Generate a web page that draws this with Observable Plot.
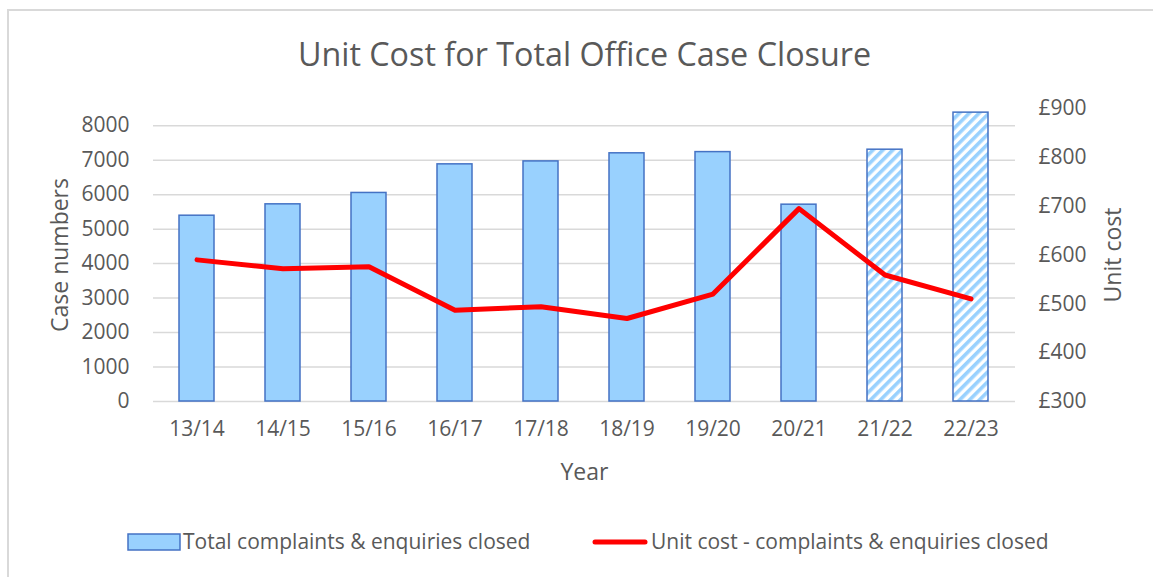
<!DOCTYPE html>
<html>
<head>
<meta charset="utf-8">
<script src="https://cdn.jsdelivr.net/npm/d3@7"></script>
<script src="https://cdn.jsdelivr.net/npm/@observablehq/plot@0.6"></script>
<style>
  body { margin: 0; background: #fff; font-family: "Open Sans", sans-serif; }
  #wrap { position: relative; width: 1153px; height: 577px; overflow: hidden; }
  #border { position: absolute; left: 7px; top: 9px; width: 1200px; height: 700px; border: 2px solid #d9d9d9; box-sizing: border-box; }
  #title { position: absolute; left: 8px; width: 1153px; top: 33px; text-align: center; font-size: 32.3px; line-height: 40px; color: #595959; }
  #chart { position: absolute; left: 0; top: 80px; }
  .leg { position: absolute; font-size: 21px; color: #595959; line-height: 24px; white-space: nowrap; }
  .sw { position: absolute; }
</style>
</head>
<body>
<div id="wrap">
  <div id="border"></div>
  <div id="title">Unit Cost for Total Office Case Closure</div>
  <div id="chart"></div>
  <svg class="sw" style="left:127px;top:533px" width="54" height="19"><rect x="1" y="1" width="52" height="16" fill="#99d1fe" stroke="#4472c4" stroke-width="1.5"/></svg>
  <div class="leg" style="left:183px;top:529px">Total complaints &amp; enquiries closed</div>
  <svg class="sw" style="left:590px;top:536px" width="60" height="12"><line x1="5" y1="6" x2="55" y2="6" stroke="#ff0000" stroke-width="5" stroke-linecap="round"/></svg>
  <div class="leg" style="left:651px;top:529px">Unit cost - complaints &amp; enquiries closed</div>
</div>
<script>
const years = ["13/14","14/15","15/16","16/17","17/18","18/19","19/20","20/21","21/22","22/23"];
const cases = [5390, 5720, 6050, 6880, 6965, 7200, 7235, 5710, 7305, 8380];
const projected = [false,false,false,false,false,false,false,false,true,true];
const unitCost = [590, 572, 576, 487, 494, 470, 520, 695, 559, 510];
const leftTicks = [0,1000,2000,3000,4000,5000,6000,7000,8000];
const rightTicks = [300,400,500,600,700,800,900];

const LMAX = 8500, RMIN = 300, RMAX = 900;
const toLeft = v => (v - RMIN) / (RMAX - RMIN) * LMAX;
const fromLeft = v => v / LMAX * (RMAX - RMIN) + RMIN;

const data = years.map((y, i) => ({year: y, cases: cases[i], projected: projected[i], cost: unitCost[i]}));

const plot = Plot.plot({
  width: 1153,
  height: 411,
  marginTop: 28,
  marginBottom: 90,
  marginLeft: 153,
  marginRight: 138,
  style: {fontFamily: "Open Sans, sans-serif", fontSize: "21px", color: "#595959", background: "transparent"},
  x: {domain: years, paddingInner: 0.59, paddingOuter: 0.295, label: null},
  y: {domain: [0, LMAX], label: null},
  marks: [
    Plot.gridY(leftTicks, {stroke: "#d9d9d9", strokeOpacity: 1, strokeWidth: 1.5}),
    Plot.barY(data.filter(d => !d.projected), {x: "year", y: "cases", fill: "#99d1fe", stroke: "#4472c4", strokeWidth: 1.5}),
    Plot.barY(data.filter(d => d.projected), {x: "year", y: "cases", fill: "url(#hatch)", stroke: "#4472c4", strokeWidth: 1.5}),
    Plot.lineY(data, {x: "year", y: d => toLeft(d.cost), stroke: "#ff0000", strokeWidth: 5, strokeLinejoin: "round", strokeLinecap: "round"}),
    Plot.axisY(leftTicks, {anchor: "left", tickSize: 0, tickPadding: 24, tickFormat: d => String(d), fontSize: 21}),
    Plot.axisY(rightTicks.map(toLeft), {anchor: "right", tickSize: 0, tickPadding: 23, tickFormat: d => "£" + Math.round(fromLeft(d)), fontSize: 21}),
    Plot.axisX({tickSize: 0, tickPadding: 20, fontSize: 21}),
    Plot.text(["Case numbers"], {frameAnchor: "left", dx: -93, rotate: -90, textAnchor: "middle", lineAnchor: "middle", fontSize: 23, fill: "#595959"}),
    Plot.text(["Unit cost"], {frameAnchor: "right", dx: 98, rotate: -90, textAnchor: "middle", lineAnchor: "middle", fontSize: 23, fill: "#595959"}),
    Plot.text(["Year"], {frameAnchor: "bottom", dy: 71, textAnchor: "middle", lineAnchor: "middle", fontSize: 23, fill: "#595959"})
  ]
});

d3.select(plot).insert("defs", ":first-child").html(
  '<pattern id="hatch" patternUnits="userSpaceOnUse" width="7" height="7" patternTransform="rotate(45)">' +
  '<rect width="7" height="7" fill="#ffffff"/><rect x="0" y="0" width="3.6" height="7" fill="#99d1fe"/></pattern>'
);
document.getElementById("chart").appendChild(plot);
</script>
</body>
</html>
